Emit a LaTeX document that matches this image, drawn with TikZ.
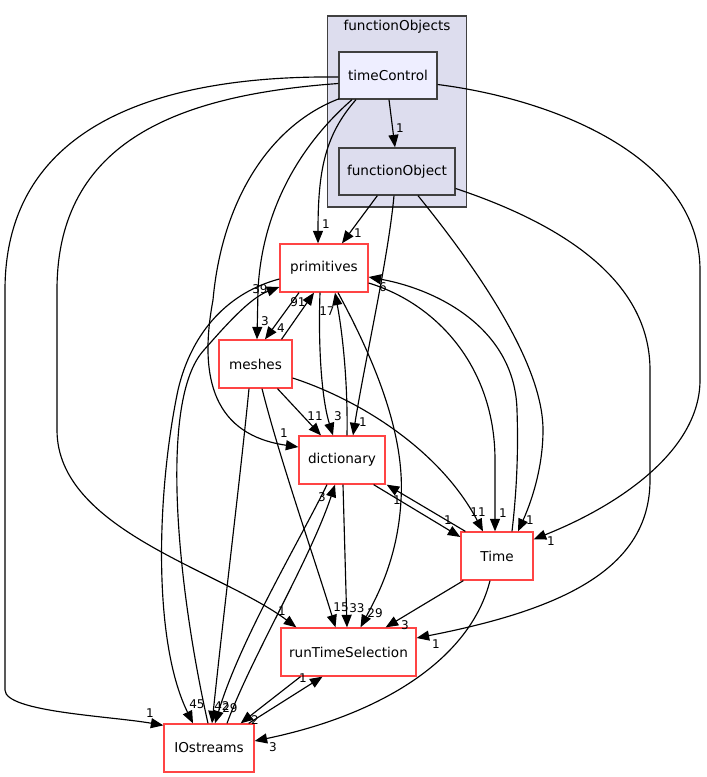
\documentclass[tikz,border=0pt]{standalone}
\usepackage{fontspec}
\setmainfont{DejaVu Sans}
\usetikzlibrary{arrows.meta,calc}
\definecolor{redb}{HTML}{FF4444}
\definecolor{grayb}{HTML}{404040}
\definecolor{clfill}{HTML}{DDDDEE}
\definecolor{curfill}{HTML}{EEEEFF}
\tikzset{
  dirbox/.style={draw=redb, line width=1.3pt, fill=white, inner sep=0pt, minimum height=48pt, font=\fontsize{13.6}{15}\selectfont},
  curdir/.style={draw=grayb, line width=1.3pt, fill=curfill, inner sep=0pt, minimum height=47pt, font=\fontsize{13.6}{15}\selectfont},
  subdir/.style={draw=grayb, line width=1.3pt, fill=clfill, inner sep=0pt, minimum height=47pt, font=\fontsize{13.6}{15}\selectfont},
  clusterbox/.style={draw=grayb, line width=1.3pt, fill=clfill, inner sep=0pt},
  dep/.style={draw=black, line width=1.15pt, -{Triangle[length=12.5pt,width=10pt]}},
  lab/.style={inner sep=0pt, font=\fontsize{12}{14}\selectfont},
  cllab/.style={inner sep=0pt, font=\fontsize{13.6}{15}\selectfont}
}
\begin{document}
\begin{tikzpicture}[x=1pt,y=-1pt]
\useasboundingbox[fill=white] (0,0) rectangle (707,777);
% cluster
\node[clusterbox, minimum width=139pt, minimum height=191pt] (cl) at (397,111.5) {};
\node[cllab] (cltitle) at (397,27) {functionObjects};
% nodes
\node[curdir, minimum width=98pt] (tc) at (388,75.5) {timeControl};
\node[subdir, minimum width=116pt] (fo) at (397,171.5) {functionObject};
\node[dirbox, minimum width=88pt] (pr) at (324,268) {primitives};
\node[dirbox, minimum width=73pt] (me) at (255.5,364) {meshes};
\node[dirbox, minimum width=86pt] (di) at (342,460) {dictionary};
\node[dirbox, minimum width=72pt] (ti) at (497,556) {Time};
\node[dirbox, minimum width=135pt] (rt) at (348.5,652) {runTimeSelection};
\node[dirbox, minimum width=90pt] (io) at (209,748) {IOstreams};
% edges from timeControl
\draw[dep] ($(tc.south)+(1,0)$) -- ($(fo.north)+(-2,0)$);
\draw[dep] ($(tc.south)+(-32,0)$) .. controls (325,135) and (318,170) .. ($(pr.north)+(-6,0)$);
\draw[dep] ($(tc.south)+(-36,0)$) .. controls (300,145) and (262,210) .. (258,290) -- ($(me.north)+(1.5,0)$);
\draw[dep] ($(tc.south west)+(1,-1)$) .. controls (270,125) and (222,200) .. (213,300) .. controls (198,380) and (215,435) .. ($(di.west)+(0,-13)$);
\draw[dep] ($(tc.west)+(0,8)$) .. controls (180,95) and (57,140) .. (57,290) -- (57,430) .. controls (57,530) and (220,570) .. ($(rt.north west)+(16,0)$);
\draw[dep] ($(tc.west)+(0,1.5)$) .. controls (150,75) and (5,130) .. (5,290) -- (5,690) .. controls (5,712) and (110,716) .. ($(io.north west)+(0,2)$);
\draw[dep] ($(tc.east)+(0,9)$) .. controls (560,100) and (700,160) .. (700,270) -- (700,380) .. controls (700,450) and (620,505) .. ($(ti.north east)+(0,8)$);
% edges from functionObject
\draw[dep] ($(fo.south west)+(39,0)$) -- ($(pr.north)+(18,0)$);
\draw[dep] ($(fo.south)+(-3,0)$) .. controls (388,260) and (365,360) .. ($(di.north)+(11,0)$);
\draw[dep] ($(fo.south)+(21,0)$) .. controls (470,260) and (543,360) .. (543,430) .. controls (543,470) and (530,505) .. ($(ti.north)+(21,0)$);
\draw[dep] ($(fo.east)+(0,17)$) .. controls (580,230) and (650,290) .. (650,370) -- (650,480) .. controls (650,570) and (560,610) .. ($(rt.east)+(0,-14)$);
% primitives / meshes
\draw[dep] ($(pr.south)+(-25,0)$) -- ($(me.north)+(9.5,0)$);
\draw[dep] ($(me.north)+(26,0)$) -- ($(pr.south)+(-10,0)$);
\draw[dep] ($(io.north)+(-1,0)$) .. controls (178,590) and (158,400) .. (204,350) .. controls (226,325) and (250,298) .. ($(pr.west)+(0,19)$);
\draw[dep] ($(pr.west)+(0,11)$) .. controls (230,292) and (192,330) .. (178,390) .. controls (157,490) and (152,640) .. ($(io.north)+(-16,0)$);
\draw[dep] ($(me.south)+(22,0)$) -- ($(di.north)+(-21,0)$);
\draw[dep] ($(pr.south)+(-4,0)$) .. controls (318,350) and (322,400) .. ($(di.north)+(-9,0)$);
\draw[dep] ($(di.north)+(5,0)$) .. controls (348,380) and (342,330) .. ($(pr.south)+(11,0)$);
\draw[dep] ($(me.east)+(0,14)$) .. controls (360,400) and (440,450) .. ($(ti.north)+(-14,0)$);
\draw[dep] ($(me.south)+(6.5,0)$) .. controls (280,460) and (315,560) .. ($(rt.north)+(-13,0)$);
\draw[dep] ($(me.south)+(-6.5,0)$) .. controls (240,480) and (225,600) .. ($(io.north)+(3,0)$);
% dictionary / IOstreams / runTimeSelection
\draw[dep] ($(di.south)+(-15,0)$) .. controls (300,540) and (240,640) .. ($(io.north)+(6,0)$);
\draw[dep] ($(io.north)+(18,0)$) .. controls (250,660) and (310,560) .. ($(di.south)+(-7,0)$);
\draw[dep] ($(di.south)+(1,0)$) -- ($(rt.north)+(-1.5,0)$);
\draw[dep] ($(pr.south)+(14,0)$) .. controls (380,370) and (405,440) .. (401,500) .. controls (398,560) and (375,600) .. ($(rt.north)+(12,0)$);
% Time
\draw[dep] ($(ti.south west)+(3,0)$) -- ($(rt.north east)+(-31,0)$);
\draw[dep] ($(ti.south)+(-7,0)$) .. controls (470,660) and (380,715) .. ($(io.east)+(0,-7)$);
\draw[dep] ($(ti.north west)+(5,0)$) -- ($(di.south east)+(1,0)$);
\draw[dep] ($(di.south east)+(-12,0)$) -- ($(ti.west)+(0,-19)$);
\draw[dep] ($(pr.east)+(0,15)$) .. controls (440,305) and (495,370) .. (495,460) -- ($(ti.north)+(-2,0)$);
\draw[dep] ($(ti.north)+(15,0)$) .. controls (518,480) and (518,440) .. (517,410) .. controls (515,330) and (440,290) .. ($(pr.east)+(0,9)$);
\draw[dep] ($(rt.south)+(-48,0)$) -- ($(io.north east)+(-14,0)$);
\draw[dep] ($(io.north east)+(-6,0)$) -- ($(rt.south)+(-26,0)$);
% labels
\node[lab] (l1) at (400,128) {1};
\node[lab] (l2) at (326,224) {1};
\node[lab] (l3) at (265,321) {3};
\node[lab] (l4) at (284,433) {1};
\node[lab] (l5) at (282,611) {1};
\node[lab] (l6) at (150,713) {1};
\node[lab] (l7) at (551,541) {1};
\node[lab] (l8) at (358,233) {1};
\node[lab] (l9) at (363,422) {1};
\node[lab] (l10) at (281,328) {4};
\node[lab] (l11) at (298,302) {91};
\node[lab] (l12) at (260,289) {39};
\node[lab] (l13) at (197,704) {45};
\node[lab] (l14) at (315,416) {11};
\node[lab] (l15) at (338,416) {3};
\node[lab] (l16) at (327,311) {17};
\node[lab] (l17) at (478,512) {11};
\node[lab] (l18) at (341,607) {15};
\node[lab] (l19) at (222,706) {42};
\node[lab] (l20) at (230,708) {29};
\node[lab] (l21) at (322,497) {3};
\node[lab] (l22) at (357,608) {33};
\node[lab] (l23) at (375,613) {29};
\node[lab] (l24) at (405,625) {3};
\node[lab] (l25) at (273,747) {3};
\node[lab] (l26) at (397,500) {1};
\node[lab] (l27) at (448,520) {1};
\node[lab] (l28) at (503,513) {1};
\node[lab] (l29) at (383,287) {6};
\node[lab] (l30) at (530,520) {1};
\node[lab] (l31) at (436,644) {1};
\node[lab] (l32) at (255,720) {2};
\node[lab] (l33) at (303,678) {1};
\end{tikzpicture}
\end{document}
